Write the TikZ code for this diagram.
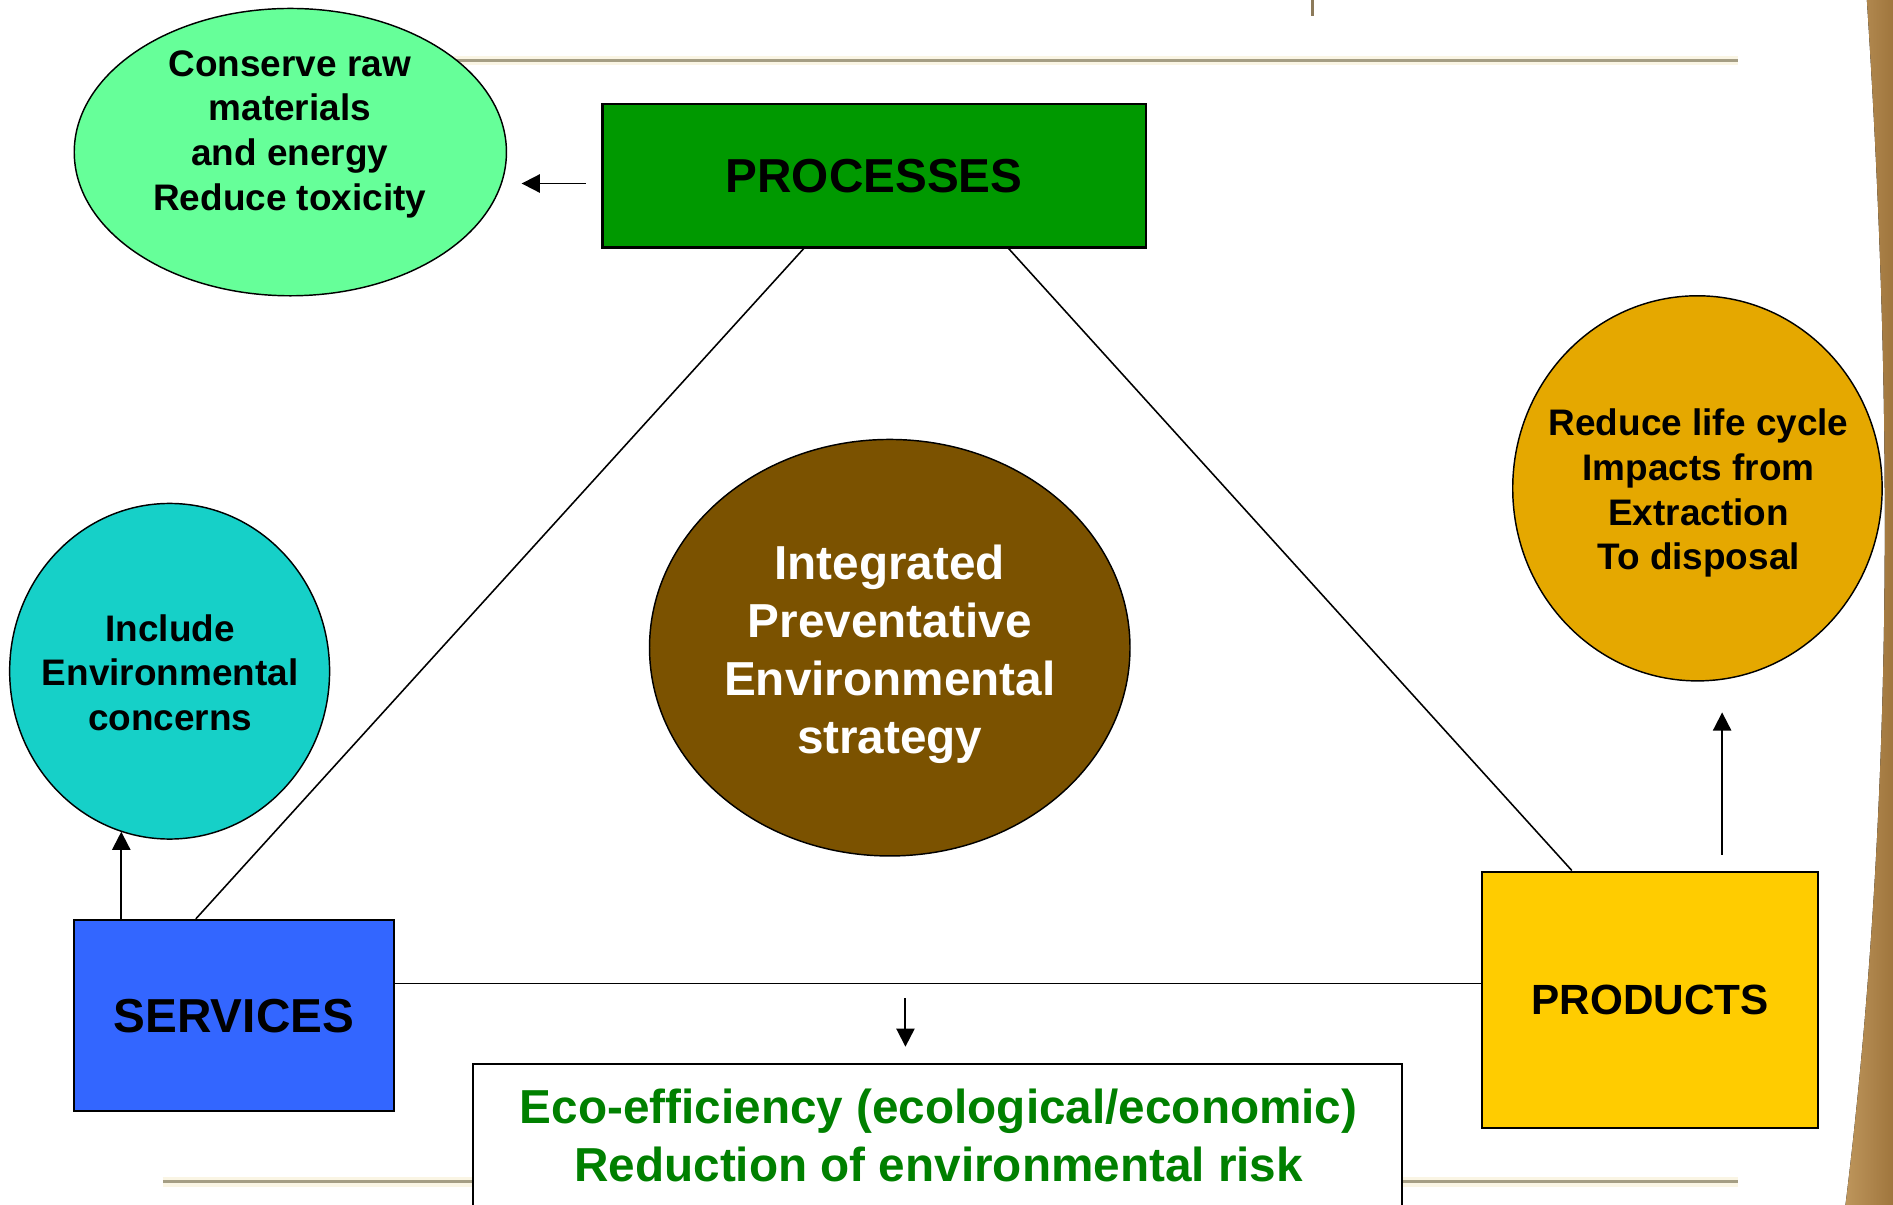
\documentclass[tikz,border=0pt]{standalone}
\usepackage{fontspec}
\setmainfont{Liberation Sans}
\usetikzlibrary{arrows.meta,shapes.geometric,calc}

\definecolor{ovalgreen}{RGB}{102,255,153}
\definecolor{procgreen}{RGB}{0,153,0}
\definecolor{corebrown}{RGB}{123,82,0}
\definecolor{tealfill}{RGB}{22,208,200}
\definecolor{amberfill}{RGB}{229,168,0}
\definecolor{servblue}{RGB}{51,102,255}
\definecolor{prodyellow}{RGB}{255,204,0}
\definecolor{ecogreen}{RGB}{0,128,0}
\definecolor{rulecore}{RGB}{165,158,132}
\definecolor{ruleglow}{RGB}{250,245,228}
\definecolor{bandlight}{RGB}{190,150,92}
\definecolor{banddark}{RGB}{150,108,52}
\definecolor{tickcol}{RGB}{140,122,90}

\tikzset{
  boxnode/.style={draw=black, line width=1.8pt, rectangle, inner sep=0pt,
    font=\bfseries\fontsize{39.5}{48}\selectfont},
  oval/.style={draw=black, line width=1.2pt, ellipse, inner sep=0pt},
  % multi-line texts are placed by the baseline of their last line
  smalltxt/.style={align=center, inner sep=0pt, anchor=base,
    font=\bfseries\fontsize{30.6}{37}\selectfont},
  bigtxt/.style={align=center, inner sep=0pt, anchor=base,
    font=\bfseries\fontsize{39.5}{48}\selectfont},
  link/.style={line width=1.3pt},
  arr/.style={line width=1.6pt, -{Triangle[length=15pt,width=15pt]}},
  rulebase/.style={ruleglow, line width=8pt},
  ruletop/.style={rulecore, line width=2.5pt}
}

\begin{document}
\begin{tikzpicture}[x=1pt,y=-1pt]
\useasboundingbox (0,0) rectangle (1568,998);
\fill[white] (0,0) rectangle (1568,998);

% slide decoration: rules, tick and the curved band on the right
\draw[rulebase] (200,50) -- (1440,50);
\draw[ruletop] (200,50) -- (1440,50);
\draw[rulebase] (135,979) -- (1440,979);
\draw[ruletop] (135,979) -- (1440,979);
\draw[tickcol, line width=2pt] (1087,0) -- (1087,13);
\fill[left color=bandlight, right color=banddark]
  (1546,-5) .. controls (1566,300) and (1572,650) .. (1528,1003)
  -- (1580,1003) -- (1580,-5) -- cycle;

% shapes
\node[oval, fill=ovalgreen, minimum width=358pt, minimum height=238pt] (conserve) at (240.5,126) {};
\node[oval, fill=corebrown, minimum width=398pt, minimum height=345pt] (core) at (737,536.5) {};
\node[oval, fill=tealfill, minimum width=265pt, minimum height=278pt] (include) at (140.5,556) {};
\node[oval, fill=amberfill, minimum width=306pt, minimum height=319pt] (reduce) at (1406,404.5) {};

\node[boxnode, fill=procgreen, minimum width=450pt, minimum height=119pt] (proc) at (724,145.5) {PROCESSES};
\node[boxnode, fill=servblue, minimum width=265.5pt, minimum height=158.5pt] (serv) at (193.75,841.25) {SERVICES};
\node[boxnode, fill=prodyellow, minimum width=278.5pt, minimum height=212pt,
  font=\bfseries\fontsize{35}{42}\selectfont] (prod) at (1366.75,828) {PRODUCTS};
\node[draw=black, line width=1.6pt, fill=white, rectangle, inner sep=0pt,
  minimum width=769pt, minimum height=140pt] (eco) at (776.5,951) {};

% texts
\node[smalltxt] (conservetxt) at (240,174) {Conserve raw\\materials\\and energy\\Reduce toxicity};
\node[bigtxt, text=white] (coretxt) at (737,624) {Integrated\\Preventative\\Environmental\\strategy};
\node[smalltxt] (includetxt) at (141,605) {Include\\Environmental\\concerns};
\node[smalltxt] (reducetxt) at (1407,472) {Reduce life cycle\\Impacts from\\Extraction\\To disposal};
\node[bigtxt, text=ecogreen] (ecotxt) at (777.5,979) {Eco-efficiency (ecological/economic)\\Reduction of environmental risk};

% triangle of links
\draw[link] ($(proc.south west)!0.371!(proc.south east)$) -- ($(serv.north west)!0.382!(serv.north east)$);
\draw[link] ($(proc.south west)!0.7467!(proc.south east)$) -- ($(prod.north west)!0.269!(prod.north east)$);
\coordinate (hlink) at ($(serv.north east)!0.334!(serv.south east)$);
\draw[link] (hlink) -- (hlink -| prod.west);

% arrows
\coordinate (leftstart) at ($(proc.west)+(-13,6.5)$);
\draw[arr] (leftstart) -- ++(-53,0);
\coordinate (servup) at ($(serv.north west)!0.151!(serv.north east)$);
\draw[arr] (servup) -- (servup |- include.253.4);
\coordinate (produp) at ($(prod.north west)!0.713!(prod.north east)+(0,-13)$);
\draw[arr] (produp) -- ++(0,-118);
\coordinate (dropstart) at (750,827);
\coordinate (dropend) at (750,867);
\draw[arr] (dropstart) -- (dropend);
\end{tikzpicture}
\end{document}
